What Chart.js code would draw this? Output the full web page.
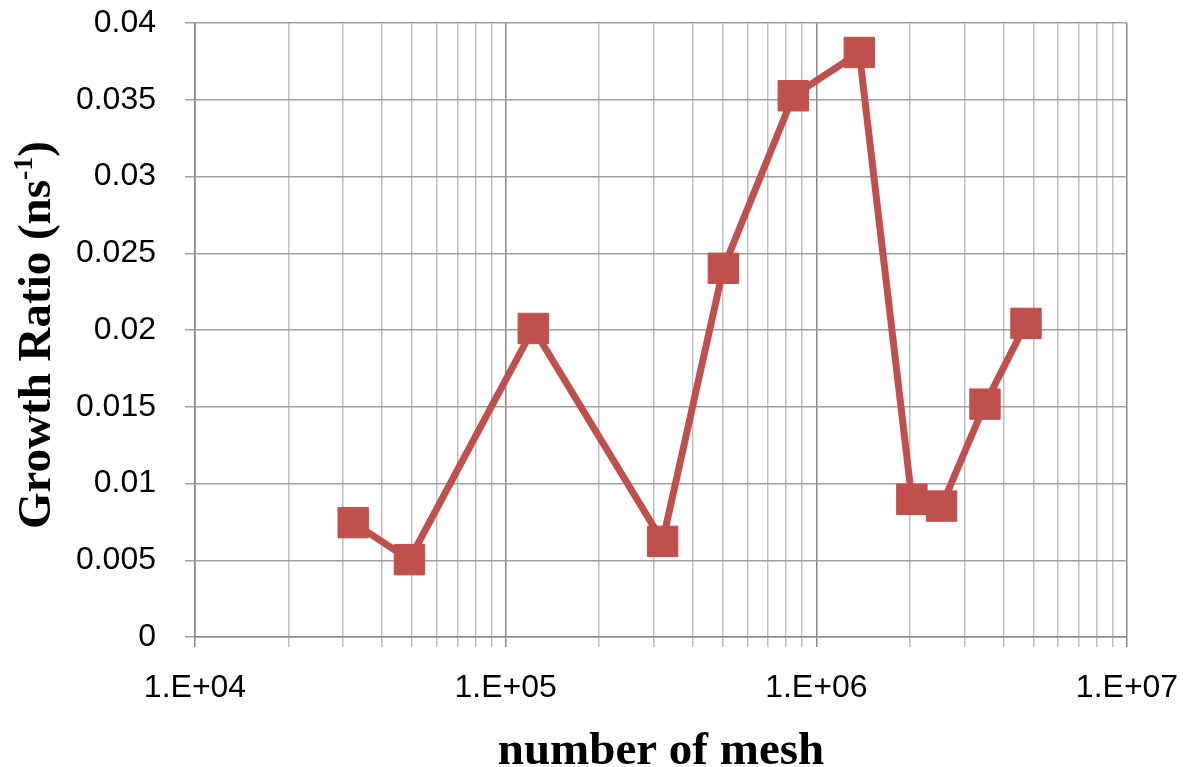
<!DOCTYPE html>
<html>
<head>
<meta charset="utf-8">
<title>Growth Ratio vs number of mesh</title>
<script src="https://cdn.jsdelivr.net/npm/chart.js@4.4.1/dist/chart.umd.min.js"></script>
<style>
    html, body { margin: 0; padding: 0; background: #fff; }
    #wrap { width: 1183px; height: 767px; }
</style>
</head>
<body>
<div id="wrap"><canvas id="growthChart" width="1183" height="767"></canvas></div>
<script>
// Values
const meshCounts = [32300, 49000, 122700, 320000, 502000, 843000, 1375000, 2030000, 2530000, 3490000, 4730000];
const growthRatios = [0.00745, 0.00504, 0.0201, 0.00623, 0.02402, 0.03526, 0.03808, 0.00897, 0.00853, 0.01517, 0.02043];

// Axis ticks
const decades = [1e4, 1e5, 1e6, 1e7];
const decadeLabels = ['1.E+04', '1.E+05', '1.E+06', '1.E+07'];
const yTickLabels = ['0', '0.005', '0.01', '0.015', '0.02', '0.025', '0.03', '0.035', '0.04'];

const lineColor = '#C0504D';
const majorGrid = '#8a8a8a';
const minorGrid = '#c0c0c0';
const hGrid = '#a0a0a0';

// where the plot frame sits in the reference
const targetArea = { left: 195, right: 1127, top: 23, bottom: 637 };

// Axis titles drawn by hand so the y title can carry a superscript
const axisTitles = {
    id: 'axisTitles',
    afterDraw(chart) {
        const { ctx, chartArea } = chart;
        const bigFont = 'bold 47px "Liberation Serif"';
        const supFont = 'bold 28px "Liberation Serif"';
        ctx.save();
        ctx.fillStyle = '#000';
        ctx.textBaseline = 'alphabetic';

        ctx.font = bigFont;
        ctx.textAlign = 'center';
        ctx.fillText('number of mesh', (chartArea.left + chartArea.right) / 2, 764);

        const main = 'Growth Ratio (ns';
        const sup = '-1';
        const close = ')';
        ctx.font = bigFont;
        const wMain = ctx.measureText(main).width;
        const wClose = ctx.measureText(close).width;
        ctx.font = supFont;
        const wSup = ctx.measureText(sup).width;
        const total = wMain + wSup + wClose;

        ctx.translate(50, 335);
        ctx.rotate(-Math.PI / 2);
        ctx.textAlign = 'left';
        let x = -total / 2;
        ctx.font = bigFont;
        ctx.fillText(main, x, 0);
        x += wMain;
        ctx.font = supFont;
        ctx.fillText(sup, x, -18);
        x += wSup;
        ctx.font = bigFont;
        ctx.fillText(close, x, 0);
        ctx.restore();
    }
};

const isDecade = (v) => decades.indexOf(v) >= 0;
const tickFont = { family: '"Liberation Sans"', size: 32 };

// scales report label overhang as padding, which pushes the frame inwards; drop it
const noScalePadding = (scale) => {
    scale.paddingTop = 0;
    scale.paddingBottom = 0;
    scale.paddingLeft = 0;
    scale.paddingRight = 0;
};

const ctx = document.getElementById('growthChart').getContext('2d');

new Chart(ctx, {
    type: 'line',
    data: {
        datasets: [{
            data: meshCounts.map((m, i) => ({ x: m, y: growthRatios[i] })),
            borderColor: lineColor,
            backgroundColor: lineColor,
            borderWidth: 7,
            pointStyle: 'rect',
            pointRadius: 21.5,
            pointBorderWidth: 1,
            pointBackgroundColor: lineColor,
            pointBorderColor: lineColor,
            tension: 0,
            fill: false,
            clip: false
        }]
    },
    options: {
        responsive: false,
        animation: false,
        devicePixelRatio: 1,
        layout: {
            autoPadding: false,
            padding: {
                left: 0,
                right: 1183 - targetArea.right,
                top: targetArea.top,
                bottom: 0
            }
        },
        plugins: {
            legend: { display: false },
            tooltip: { enabled: false }
        },
        scales: {
            x: {
                type: 'logarithmic',
                position: 'bottom',
                min: 1e4,
                max: 1e7,
                afterBuildTicks(scale) {
                    const ticks = [];
                    for (let e = 4; e < 7; e++) {
                        for (let s = 1; s < 10; s++) {
                            ticks.push({ value: s * Math.pow(10, e) });
                        }
                    }
                    ticks.push({ value: 1e7 });
                    scale.ticks = ticks;
                },
                afterFit(scale) {
                    scale.height = 767 - targetArea.bottom;
                    noScalePadding(scale);
                },
                grid: {
                    color: (c) => (c.tick && isDecade(c.tick.value)) ? majorGrid : minorGrid,
                    lineWidth: 1.5,
                    drawTicks: true,
                    tickLength: 10
                },
                border: { color: majorGrid, width: 1.5 },
                ticks: {
                    autoSkip: false,
                    maxRotation: 0,
                    minRotation: 0,
                    padding: 22,
                    color: '#000',
                    font: tickFont,
                    callback: function(value) {
                        const i = decades.indexOf(value);
                        return i >= 0 ? decadeLabels[i] : '';
                    }
                }
            },
            y: {
                min: 0,
                max: 0.04,
                afterFit(scale) {
                    scale.width = targetArea.left;
                    noScalePadding(scale);
                },
                grid: {
                    color: hGrid,
                    lineWidth: 1.5,
                    drawTicks: true,
                    tickLength: 10
                },
                border: { color: majorGrid, width: 1.5 },
                ticks: {
                    stepSize: 0.005,
                    padding: 29,
                    color: '#000',
                    font: tickFont,
                    callback: function(value) {
                        const i = Math.round(value / 0.005);
                        return yTickLabels[i] !== undefined ? yTickLabels[i] : '';
                    }
                }
            }
        }
    },
    plugins: [axisTitles]
});
</script>
</body>
</html>
